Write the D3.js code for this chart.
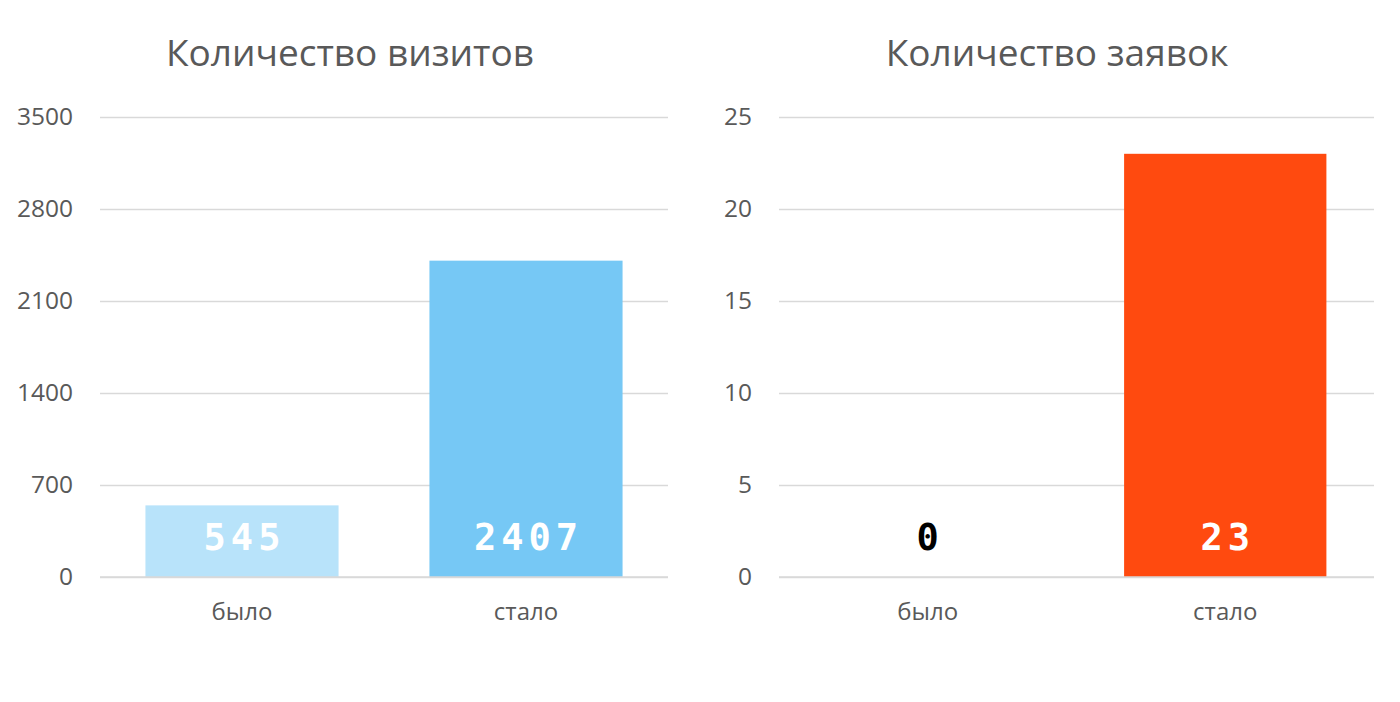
<!DOCTYPE html>
<html>
<head>
<meta charset="utf-8">
<script src="https://cdn.jsdelivr.net/npm/d3@7"></script>
<style>
  html, body { margin: 0; padding: 0; background: #fff; }
  svg { display: block; }
</style>
</head>
<body>
<svg id="chart" width="1400" height="702"></svg>
<script>
// ---- data ----
const categories = ["было", "стало"];
const visitValues = [545, 2407];
const requestValues = [0, 23];
const visitTicks = [0, 700, 1400, 2100, 2800, 3500];
const requestTicks = [0, 5, 10, 15, 20, 25];
const visitTitle = "Количество визитов";
const requestTitle = "Количество заявок";

// ---- styling ----
const textColor = "#595959";
const gridColor = "#d9d9d9";
const uiFont = "'Open Sans', 'Noto Sans', sans-serif";
const valueFont = "'DejaVu Sans Mono', monospace";

const svg = d3.select("#chart");

function drawChart(cfg) {
  const g = svg.append("g");
  const x = d3.scaleBand().domain(categories).range([cfg.x0, cfg.x1])
    .paddingInner(0.32).paddingOuter(0.16);
  const y = d3.scaleLinear().domain([0, d3.max(cfg.ticks)]).range([577, 117]);

  // title
  g.append("text")
    .attr("x", cfg.titleX).attr("y", 66)
    .attr("text-anchor", "middle")
    .attr("font-family", uiFont).attr("font-size", 37)
    .attr("fill", textColor)
    .text(cfg.title);

  // y axis with gridlines
  const yAxis = d3.axisLeft(y).tickValues(cfg.ticks)
    .tickSize(-(cfg.x1 - cfg.x0)).tickPadding(27).tickFormat(d3.format("d"));
  const ya = g.append("g").attr("transform", `translate(${cfg.x0},0)`).call(yAxis);
  ya.select(".domain").remove();
  ya.selectAll(".tick line").attr("stroke", gridColor).attr("stroke-width", 1.5);
  ya.selectAll(".tick text")
    .attr("font-family", uiFont).attr("font-size", 24.5).attr("fill", textColor);

  // bars
  g.selectAll("rect.bar").data(cfg.values).enter().append("rect")
    .attr("class", "bar")
    .attr("x", (d, i) => x(categories[i]))
    .attr("width", x.bandwidth())
    .attr("y", d => y(d))
    .attr("height", d => y(0) - y(d))
    .attr("fill", (d, i) => cfg.colors[i]);

  // baseline over bars
  g.append("line")
    .attr("x1", cfg.x0).attr("x2", cfg.x1)
    .attr("y1", y(0)).attr("y2", y(0))
    .attr("stroke", gridColor).attr("stroke-width", 1.5);

  // x axis labels
  const xAxis = d3.axisBottom(x).tickSize(0).tickPadding(26);
  const xa = g.append("g").attr("transform", `translate(0,${y(0)})`).call(xAxis);
  xa.select(".domain").remove();
  xa.selectAll(".tick text")
    .attr("font-family", uiFont).attr("font-size", 24).attr("fill", textColor);

  // value labels (inside base)
  g.selectAll("text.val").data(cfg.values).enter().append("text")
    .attr("class", "val")
    .attr("x", (d, i) => x(categories[i]) + x.bandwidth() / 2 + 2.5)
    .attr("y", y(0) - 27)
    .attr("text-anchor", "middle")
    .attr("font-family", valueFont).attr("font-weight", "bold")
    .attr("font-size", 37).attr("letter-spacing", 5)
    .attr("fill", (d, i) => cfg.labelColors[i])
    .text(d => d);
}

drawChart({
  x0: 100, x1: 668, titleX: 350,
  title: visitTitle, values: visitValues, ticks: visitTicks,
  colors: ["#b8e3fa", "#76c8f5"], labelColors: ["#ffffff", "#ffffff"]
});
drawChart({
  x0: 779, x1: 1374, titleX: 1057,
  title: requestTitle, values: requestValues, ticks: requestTicks,
  colors: ["#ff4a0f", "#ff4a0f"], labelColors: ["#000000", "#ffffff"]
});
</script>
</body>
</html>
